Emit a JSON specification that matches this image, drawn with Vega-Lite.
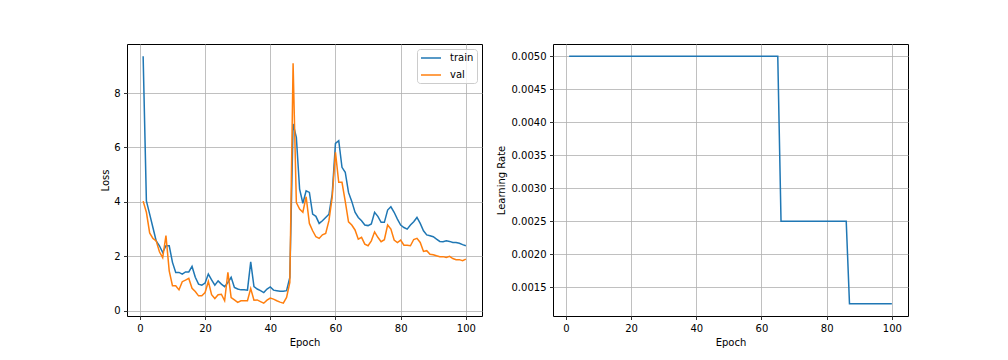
{
  "$schema": "https://vega.github.io/schema/vega-lite/v6.json",
  "background": "white",
  "padding": {"left": 100, "top": 43, "right": 5, "bottom": 5},
  "bounds": "flush",
  "spacing": 71,
  "resolve": {"legend": {"color": "independent"}, "scale": {"color": "independent"}},
  "datasets": {
    "d": [
      {"epoch":1,"train":9.35,"val":4.03,"lr":0.005},
      {"epoch":2,"train":4.04,"val":3.62,"lr":0.005},
      {"epoch":3,"train":3.55,"val":2.86,"lr":0.005},
      {"epoch":4,"train":3.06,"val":2.66,"lr":0.005},
      {"epoch":5,"train":2.57,"val":2.57,"lr":0.005},
      {"epoch":6,"train":2.39,"val":2.17,"lr":0.005},
      {"epoch":7,"train":2.14,"val":1.95,"lr":0.005},
      {"epoch":8,"train":2.39,"val":2.76,"lr":0.005},
      {"epoch":9,"train":2.39,"val":1.47,"lr":0.005},
      {"epoch":10,"train":1.78,"val":0.92,"lr":0.005},
      {"epoch":11,"train":1.41,"val":0.92,"lr":0.005},
      {"epoch":12,"train":1.41,"val":0.77,"lr":0.005},
      {"epoch":13,"train":1.35,"val":1.07,"lr":0.005},
      {"epoch":14,"train":1.43,"val":1.13,"lr":0.005},
      {"epoch":15,"train":1.43,"val":1.19,"lr":0.005},
      {"epoch":16,"train":1.63,"val":0.83,"lr":0.005},
      {"epoch":17,"train":1.23,"val":0.71,"lr":0.005},
      {"epoch":18,"train":0.98,"val":0.55,"lr":0.005},
      {"epoch":19,"train":0.94,"val":0.55,"lr":0.005},
      {"epoch":20,"train":1.02,"val":0.67,"lr":0.005},
      {"epoch":21,"train":1.35,"val":1.08,"lr":0.005},
      {"epoch":22,"train":1.14,"val":0.59,"lr":0.005},
      {"epoch":23,"train":0.94,"val":0.45,"lr":0.005},
      {"epoch":24,"train":1.10,"val":0.59,"lr":0.005},
      {"epoch":25,"train":0.98,"val":0.61,"lr":0.005},
      {"epoch":26,"train":0.89,"val":0.37,"lr":0.005},
      {"epoch":27,"train":1.04,"val":1.41,"lr":0.005},
      {"epoch":28,"train":1.23,"val":0.49,"lr":0.005},
      {"epoch":29,"train":0.86,"val":0.40,"lr":0.005},
      {"epoch":30,"train":0.80,"val":0.31,"lr":0.005},
      {"epoch":31,"train":0.77,"val":0.37,"lr":0.005},
      {"epoch":32,"train":0.77,"val":0.37,"lr":0.005},
      {"epoch":33,"train":0.76,"val":0.37,"lr":0.005},
      {"epoch":34,"train":1.80,"val":0.82,"lr":0.005},
      {"epoch":35,"train":0.89,"val":0.39,"lr":0.005},
      {"epoch":36,"train":0.80,"val":0.40,"lr":0.005},
      {"epoch":37,"train":0.74,"val":0.34,"lr":0.005},
      {"epoch":38,"train":0.67,"val":0.28,"lr":0.005},
      {"epoch":39,"train":0.80,"val":0.39,"lr":0.005},
      {"epoch":40,"train":0.88,"val":0.47,"lr":0.005},
      {"epoch":41,"train":0.76,"val":0.43,"lr":0.005},
      {"epoch":42,"train":0.74,"val":0.37,"lr":0.005},
      {"epoch":43,"train":0.72,"val":0.32,"lr":0.005},
      {"epoch":44,"train":0.72,"val":0.28,"lr":0.005},
      {"epoch":45,"train":0.74,"val":0.49,"lr":0.005},
      {"epoch":46,"train":1.23,"val":1.04,"lr":0.005},
      {"epoch":47,"train":6.86,"val":9.09,"lr":0.005},
      {"epoch":48,"train":6.37,"val":3.98,"lr":0.005},
      {"epoch":49,"train":4.47,"val":3.74,"lr":0.005},
      {"epoch":50,"train":3.95,"val":3.62,"lr":0.005},
      {"epoch":51,"train":4.41,"val":4.19,"lr":0.005},
      {"epoch":52,"train":4.35,"val":3.21,"lr":0.005},
      {"epoch":53,"train":3.55,"val":2.94,"lr":0.005},
      {"epoch":54,"train":3.47,"val":2.72,"lr":0.005},
      {"epoch":55,"train":3.21,"val":2.66,"lr":0.005},
      {"epoch":56,"train":3.31,"val":2.79,"lr":0.005},
      {"epoch":57,"train":3.43,"val":2.84,"lr":0.005},
      {"epoch":58,"train":3.55,"val":3.31,"lr":0.005},
      {"epoch":59,"train":4.29,"val":4.17,"lr":0.005},
      {"epoch":60,"train":6.15,"val":5.82,"lr":0.005},
      {"epoch":61,"train":6.25,"val":4.72,"lr":0.005},
      {"epoch":62,"train":5.27,"val":4.72,"lr":0.005},
      {"epoch":63,"train":5.09,"val":4.02,"lr":0.005},
      {"epoch":64,"train":4.35,"val":3.27,"lr":0.005},
      {"epoch":65,"train":4.02,"val":3.15,"lr":0.005},
      {"epoch":66,"train":3.62,"val":2.97,"lr":0.0025},
      {"epoch":67,"train":3.43,"val":2.63,"lr":0.0025},
      {"epoch":68,"train":3.31,"val":2.70,"lr":0.0025},
      {"epoch":69,"train":3.15,"val":2.45,"lr":0.0025},
      {"epoch":70,"train":3.13,"val":2.39,"lr":0.0025},
      {"epoch":71,"train":3.19,"val":2.57,"lr":0.0025},
      {"epoch":72,"train":3.62,"val":2.90,"lr":0.0025},
      {"epoch":73,"train":3.47,"val":2.70,"lr":0.0025},
      {"epoch":74,"train":3.25,"val":2.54,"lr":0.0025},
      {"epoch":75,"train":3.25,"val":2.61,"lr":0.0025},
      {"epoch":76,"train":3.70,"val":3.15,"lr":0.0025},
      {"epoch":77,"train":3.82,"val":3.00,"lr":0.0025},
      {"epoch":78,"train":3.62,"val":2.60,"lr":0.0025},
      {"epoch":79,"train":3.37,"val":2.51,"lr":0.0025},
      {"epoch":80,"train":3.15,"val":2.60,"lr":0.0025},
      {"epoch":81,"train":3.06,"val":2.41,"lr":0.0025},
      {"epoch":82,"train":3.00,"val":2.41,"lr":0.0025},
      {"epoch":83,"train":3.15,"val":2.39,"lr":0.0025},
      {"epoch":84,"train":3.27,"val":2.62,"lr":0.0025},
      {"epoch":85,"train":3.43,"val":2.66,"lr":0.0025},
      {"epoch":86,"train":3.21,"val":2.51,"lr":0.0025},
      {"epoch":87,"train":2.94,"val":2.18,"lr":0.00125},
      {"epoch":88,"train":2.79,"val":2.21,"lr":0.00125},
      {"epoch":89,"train":2.76,"val":2.08,"lr":0.00125},
      {"epoch":90,"train":2.72,"val":2.06,"lr":0.00125},
      {"epoch":91,"train":2.63,"val":2.02,"lr":0.00125},
      {"epoch":92,"train":2.55,"val":1.99,"lr":0.00125},
      {"epoch":93,"train":2.54,"val":1.99,"lr":0.00125},
      {"epoch":94,"train":2.57,"val":1.96,"lr":0.00125},
      {"epoch":95,"train":2.55,"val":2.00,"lr":0.00125},
      {"epoch":96,"train":2.51,"val":1.92,"lr":0.00125},
      {"epoch":97,"train":2.51,"val":1.88,"lr":0.00125},
      {"epoch":98,"train":2.48,"val":1.88,"lr":0.00125},
      {"epoch":99,"train":2.43,"val":1.84,"lr":0.00125},
      {"epoch":100,"train":2.39,"val":1.90,"lr":0.00125}
    ]
  },
  "hconcat": [
    {
      "width": 355,
      "height": 272,
      "data": {"name": "d"},
      "transform": [{"fold": ["train", "val"], "as": ["series", "loss"]}],
      "mark": {"type": "line", "strokeWidth": 1.5},
      "encoding": {
        "x": {"field": "epoch", "type": "quantitative", "title": "Epoch",
              "scale": {"domain": [-3.95, 104.95], "nice": false, "zero": false},
              "axis": {"values": [0, 20, 40, 60, 80, 100], "titlePadding": 4}},
        "y": {"field": "loss", "type": "quantitative", "title": "Loss",
              "scale": {"domain": [-0.19, 9.8], "nice": false, "zero": false},
              "axis": {"values": [0, 2, 4, 6, 8], "titlePadding": 3}},
        "color": {"field": "series", "type": "nominal",
                  "scale": {"domain": ["train", "val"], "range": ["#1f77b4", "#ff7f0e"]},
                  "legend": {"title": null, "orient": "top-right", "offset": 5}}
      }
    },
    {
      "width": 355,
      "height": 272,
      "data": {"name": "d"},
      "mark": {"type": "line", "strokeWidth": 1.5, "color": "#1f77b4"},
      "encoding": {
        "x": {"field": "epoch", "type": "quantitative", "title": "Epoch",
              "scale": {"domain": [-3.95, 104.95], "nice": false, "zero": false},
              "axis": {"values": [0, 20, 40, 60, 80, 100], "titlePadding": 4}},
        "y": {"field": "lr", "type": "quantitative", "title": "Learning Rate",
              "scale": {"domain": [0.0010625, 0.0051875], "nice": false, "zero": false},
              "axis": {"values": [0.0015, 0.002, 0.0025, 0.003, 0.0035, 0.004, 0.0045, 0.005], "format": ".4f", "titlePadding": 5}}
      }
    }
  ],
  "config": {
    "font": "DejaVu Sans",
    "view": {"stroke": "black", "strokeWidth": 1},
    "axis": {
      "domain": false,
      "grid": true,
      "gridColor": "#b0b0b0",
      "gridWidth": 0.8,
      "tickColor": "black",
      "tickSize": 3.5,
      "tickWidth": 0.8,
      "labelPadding": 3.5,
      "labelFont": "DejaVu Sans",
      "labelFontSize": 10,
      "labelColor": "black",
      "labelFlush": false,
      "labelOverlap": false,
      "labelBound": false,
      "titleFont": "DejaVu Sans",
      "titleFontSize": 10,
      "titleFontWeight": "normal",
      "titleColor": "black"
    },
    "legend": {
      "symbolType": "M-1,0H3",
      "symbolSize": 100,
      "symbolStrokeWidth": 1.5,
      "labelFont": "DejaVu Sans",
      "labelFontSize": 10,
      "labelColor": "black",
      "labelOffset": 18,
      "padding": 3,
      "rowPadding": 6,
      "strokeColor": "#cccccc",
      "fillColor": "rgba(255,255,255,0.8)",
      "cornerRadius": 3
    }
  }
}
